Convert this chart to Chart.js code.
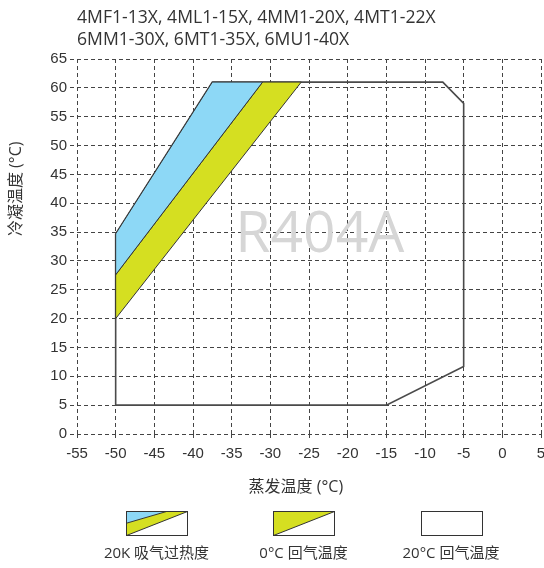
<!DOCTYPE html>
<html>
<head>
<meta charset="utf-8">
<script src="https://cdn.jsdelivr.net/npm/chart.js@4.4.0/dist/chart.umd.min.js"></script>
<style>
  html, body { margin: 0; padding: 0; background: #fff; }
  #wrap { width: 544px; height: 568px; }
</style>
</head>
<body>
<div id="wrap"><canvas id="chart" width="544" height="568"></canvas></div>
<script>
const titleLines = ['4MF1-13X, 4ML1-15X, 4MM1-20X, 4MT1-22X', '6MM1-30X, 6MT1-35X, 6MU1-40X'];
const xTitle = '蒸发温度 (°C)';
const yTitle = '冷凝温度 (°C)';
const refrigerant = 'R404A';

// application envelope (evaporating / condensing temperature)
const envEvap = [-50, -37.5, -7.7, -5, -5, -15, -50, -50];
const envCond = [34.7, 61, 61, 57.3, 11.7, 5, 5, 34.7];

// 20K suction superheat band (blue)
const blueEvap = [-50, -37.5, -31, -50, -50];
const blueCond = [34.7, 61, 61, 27.6, 34.7];

// 0°C return gas band (yellow)
const yellowEvap = [-50, -31, -26, -50, -50];
const yellowCond = [27.6, 61, 61, 20, 27.6];

const legendLabels = ['20K 吸气过热度', '0°C 回气温度', '20°C 回气温度'];

const BLUE = '#8dd8f6';
const YELLOW = '#d5df21';
const TEXT = '#333';
const GRID = '#444';
const LATIN = "'Open Sans', 'Noto Sans CJK SC', sans-serif";

const toPts = (xs, ys) => xs.map((x, i) => ({ x: x, y: ys[i] }));

// titles, watermark, legend
const decor = {
    id: 'decor',
    beforeDatasetsDraw(chart) {
        const { ctx, scales: { x, y } } = chart;
        ctx.save();
        ctx.fillStyle = '#d6d6d6';
        ctx.font = "57px " + LATIN;
        ctx.textAlign = 'center';
        ctx.textBaseline = 'middle';
        ctx.fillText(refrigerant, x.getPixelForValue(-23.6), y.getPixelForValue(34.3));
        ctx.restore();
    },
    afterDraw(chart) {
        const { ctx, chartArea, scales: { x, y } } = chart;
        ctx.save();
        ctx.fillStyle = TEXT;
        ctx.font = "16px " + LATIN;
        ctx.textAlign = 'center';
        ctx.textBaseline = 'middle';
        ctx.fillText(xTitle, x.getPixelForValue(-26.7), chartArea.bottom + 53);

        ctx.save();
        ctx.translate(16, y.getPixelForValue(42.5));
        ctx.rotate(-Math.PI / 2);
        ctx.fillText(yTitle, 0, 0);
        ctx.restore();

        // legend
        const w = 61, h = 24, top = chartArea.bottom + 77;
        const centers = [156.5, 303.5, 451];
        ctx.lineWidth = 1;
        ctx.strokeStyle = '#333';
        centers.forEach((cx, i) => {
            const l = Math.round(cx - w / 2) + 0.5, t = top + 0.5;
            if (i === 0) {
                ctx.fillStyle = BLUE;
                ctx.beginPath();
                ctx.moveTo(l, t); ctx.lineTo(l + 40, t); ctx.lineTo(l, t + 11.7); ctx.closePath();
                ctx.fill();
                ctx.fillStyle = YELLOW;
                ctx.beginPath();
                ctx.moveTo(l, t + 11.7); ctx.lineTo(l + 40, t); ctx.lineTo(l + w, t); ctx.lineTo(l, t + h); ctx.closePath();
                ctx.fill();
                ctx.beginPath();
                ctx.moveTo(l, t + 11.7); ctx.lineTo(l + 40, t);
                ctx.moveTo(l, t + h); ctx.lineTo(l + w, t);
                ctx.stroke();
            } else if (i === 1) {
                ctx.fillStyle = YELLOW;
                ctx.beginPath();
                ctx.moveTo(l, t); ctx.lineTo(l + w, t); ctx.lineTo(l, t + h); ctx.closePath();
                ctx.fill();
                ctx.beginPath();
                ctx.moveTo(l, t + h); ctx.lineTo(l + w, t);
                ctx.stroke();
            }
            ctx.strokeRect(l, t, w, h);
            ctx.fillStyle = TEXT;
            ctx.font = "15px " + LATIN;
            ctx.fillText(legendLabels[i], cx, top + 43);
        });
        ctx.restore();
    }
};

const axisTicks = { color: TEXT, font: { family: "'Liberation Sans', Arial, sans-serif", size: 15 } };

new Chart(document.getElementById('chart'), {
    type: 'line',
    data: {
        datasets: [
            {
                data: toPts(blueEvap, blueCond),
                fill: 'shape',
                backgroundColor: BLUE,
                borderColor: '#333',
                borderWidth: 1
            },
            {
                data: toPts(yellowEvap, yellowCond),
                fill: 'shape',
                backgroundColor: YELLOW,
                borderColor: '#333',
                borderWidth: 1
            },
            {
                data: toPts(envEvap, envCond),
                fill: false,
                borderColor: '#4a4a4a',
                borderWidth: 1.6
            }
        ]
    },
    options: {
        responsive: false,
        animation: false,
        events: [],
        elements: { point: { radius: 0 }, line: { tension: 0 } },
        layout: { padding: { left: 0, right: 3, top: 3, bottom: 74 } },
        plugins: {
            legend: { display: false },
            tooltip: { enabled: false },
            title: {
                display: true,
                text: titleLines,
                align: 'start',
                fullSize: false,
                color: TEXT,
                font: { family: LATIN, size: 17.6, weight: 'normal', lineHeight: 1.25 },
                padding: { top: 4, bottom: 8 }
            }
        },
        scales: {
            x: {
                type: 'linear',
                min: -55,
                max: 5,
                ticks: { ...axisTicks, stepSize: 5, padding: 4 },
                grid: { color: GRID, tickColor: GRID, tickLength: 7, tickBorderDash: [4, 3] },
                border: { display: false, dash: [4, 3] },
                afterFit: (s) => { s.height = 60; s.paddingRight = 0; }
            },
            y: {
                min: 0,
                max: 65,
                ticks: { ...axisTicks, stepSize: 5, padding: 3 },
                grid: { color: GRID, tickColor: GRID, tickLength: 7, tickBorderDash: [4, 3] },
                border: { display: false, dash: [4, 3] },
                afterFit: (s) => { s.width = 77; }
            }
        }
    },
    plugins: [decor]
});
</script>
</body>
</html>
